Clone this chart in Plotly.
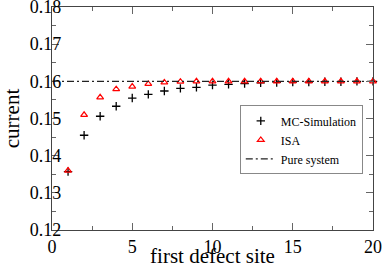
import plotly.graph_objects as go

sites = list(range(1, 21))
mc_sim = [0.1357, 0.1455, 0.1506, 0.1533, 0.1555, 0.1565, 0.1574, 0.1581, 0.1584, 0.1590,
          0.1592, 0.1594, 0.1596, 0.1597, 0.1598, 0.1598, 0.1599, 0.1599, 0.1600, 0.1600]
isa = [0.1360, 0.1510, 0.1557, 0.1579, 0.1586, 0.1593, 0.1597, 0.1599, 0.1600, 0.1600,
       0.1600, 0.1600, 0.1600, 0.1600, 0.1600, 0.1600, 0.1600, 0.1600, 0.1600, 0.1600]
pure_x = [0, 20]
pure_y = [0.16, 0.16]
y_ticks = [0.12, 0.13, 0.14, 0.15, 0.16, 0.17, 0.18]
y_tick_labels = ["0.12", "0.13", "0.14", "0.15", "0.16", "0.17", "0.18"]

FONT = "Times New Roman, Liberation Serif, serif"

fig = go.Figure()
fig.add_trace(go.Scatter(x=sites, y=mc_sim, mode="markers", name="MC-Simulation",
                         cliponaxis=False,
                         marker=dict(symbol="cross-thin-open", size=6, color="black",
                                     line=dict(color="black", width=1.3))))
fig.add_trace(go.Scatter(x=sites, y=isa, mode="markers", name="ISA",
                         cliponaxis=False,
                         marker=dict(symbol="triangle-up-open", size=6, color="red",
                                     line=dict(color="red", width=1.2))))
fig.add_trace(go.Scatter(x=pure_x, y=pure_y, mode="lines", name="Pure system",
                         line=dict(color="#222222", width=1.2, dash="7px,3px,2px,3px")))

axis_common = dict(showgrid=False, zeroline=False, showline=True, linecolor="#444444",
                   linewidth=1.2, mirror="ticks", ticks="inside", ticklen=7,
                   tickcolor="#666666", automargin=False, ticklabeloverflow="allow",
                   tickfont=dict(family=FONT, size=18, color="black"))

fig.update_xaxes(range=[0, 20], tick0=0, dtick=5,
                 minor=dict(ticks="inside", ticklen=4, dtick=2.5, tickcolor="#666666"),
                 title=dict(text="first defect site", font=dict(family=FONT, size=21, color="black")),
                 **axis_common)
fig.update_yaxes(range=[0.12, 0.18], tickmode="array", tickvals=y_ticks, ticktext=y_tick_labels,
                 ticklabelstandoff=-14,
                 minor=dict(ticks="inside", ticklen=4, tickmode="linear", tick0=0.125, dtick=0.01,
                            tickcolor="#666666"),
                 title=dict(text="current", font=dict(family=FONT, size=21, color="black")),
                 **axis_common)

fig.update_layout(
    width=382, height=268,
    margin=dict(l=52, r=9, t=7, b=38),
    plot_bgcolor="white", paper_bgcolor="white",
    font=dict(family=FONT, color="black"),
    legend=dict(x=0.585, y=0.404, xanchor="left", yanchor="middle",
                bgcolor="white", bordercolor="#888888", borderwidth=1,
                font=dict(family=FONT, size=12, color="black"),
                tracegroupgap=0, itemwidth=30),
)

fig.write_html("out.html", config={"displayModeBar": False},
               post_script="document.body.style.margin='0';document.body.style.padding='0';")
